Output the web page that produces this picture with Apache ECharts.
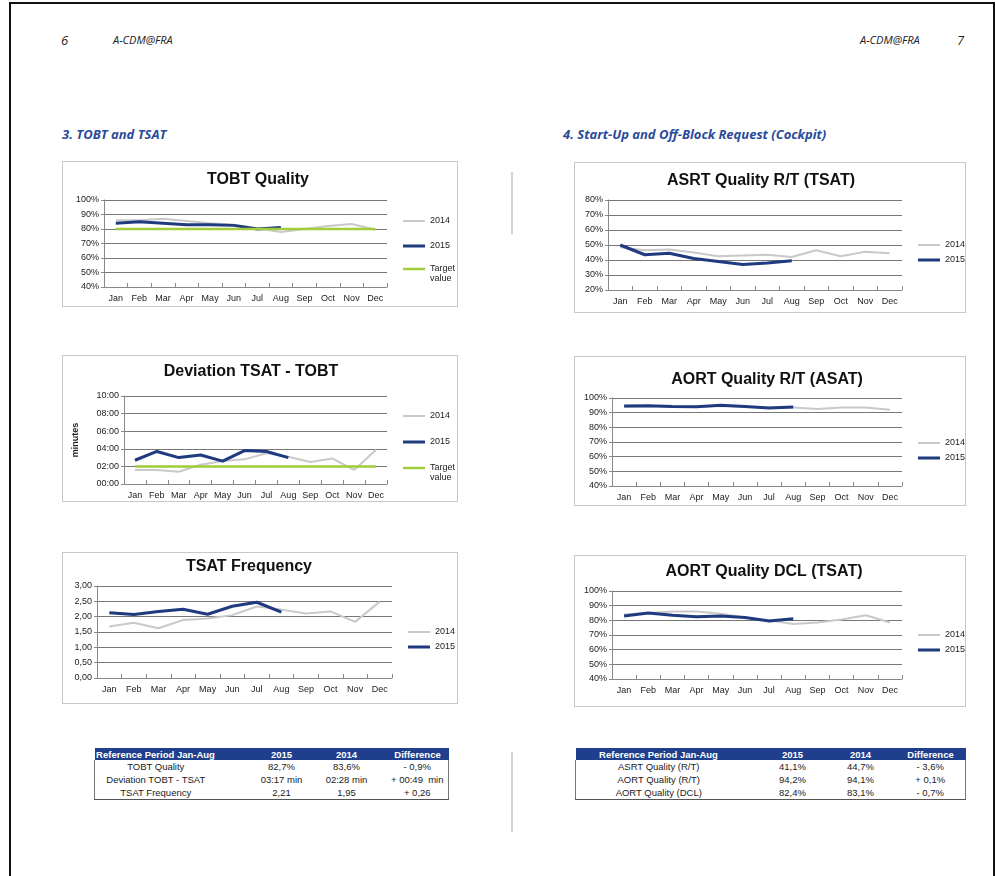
<!DOCTYPE html>
<html>
<head>
<meta charset="utf-8">
<script src="https://cdn.jsdelivr.net/npm/echarts@6/dist/echarts.min.js"></script>
<style>
  body { margin: 0; background: #fff; font-family: 'Liberation Sans', Arial, sans-serif; }
  #page { position: relative; width: 995px; height: 876px; overflow: hidden; background: #fff; }
  .frame { position: absolute; left: 9px; top: 2px; width: 982px; height: 900px; border: 2px solid #111; }
  .hdr { position: absolute; font-family: 'Liberation Sans Narrow', 'Open Sans', sans-serif; font-style: italic; color: #222; font-size: 11px; }
  .sec { position: absolute; font-family: 'Liberation Sans Narrow', 'Open Sans', sans-serif; font-style: italic; font-weight: bold; color: #2b4a9a; font-size: 13px; }
  .box { position: absolute; border: 1px solid #c8c8c8; box-sizing: border-box; }
  .mark { position: absolute; width: 2px; background: #d4d4d4; }
  table.ref { position: absolute; border-collapse: collapse; font-size: 9.5px; color: #222; table-layout: fixed; white-space: nowrap; }
  table.ref th { background: #1f3f8c; color: #fff; font-weight: bold; height: 12px; padding: 0; text-align: center; overflow: visible; }
  table.ref td { height: 13px; padding: 0; text-align: center; overflow: visible; }
  table.ref tbody { border-left: 1px solid #777; border-right: 1px solid #777; border-bottom: 1px solid #555; }
</style>
</head>
<body>
<div id="page">
  <div class="frame"></div>
  <div class="hdr" style="left:61px;top:31px;font-size:13px;">6</div>
  <div class="hdr" style="left:113px;top:32px;">A-CDM@FRA</div>
  <div class="hdr" style="left:860px;top:32px;">A-CDM@FRA</div>
  <div class="hdr" style="left:957px;top:31px;font-size:13px;">7</div>
  <div class="sec" style="left:62px;top:125px;">3. TOBT and TSAT</div>
  <div class="sec" style="left:563px;top:125px;">4. Start-Up and Off-Block Request (Cockpit)</div>
  <div class="mark" style="left:511px;top:172px;height:62px;"></div>
  <div class="mark" style="left:511px;top:752px;height:80px;"></div>

  <div id="c1" class="box" style="left:62px;top:161px;width:396px;height:146px;"></div>
  <div id="c2" class="box" style="left:62px;top:355px;width:396px;height:147px;"></div>
  <div id="c3" class="box" style="left:62px;top:552px;width:396px;height:152px;"></div>
  <div id="c4" class="box" style="left:574px;top:162px;width:392px;height:151px;"></div>
  <div id="c5" class="box" style="left:574px;top:356px;width:392px;height:150px;"></div>
  <div id="c6" class="box" style="left:574px;top:555px;width:392px;height:152px;"></div>

  <table id="t1" class="ref" style="left:94px;top:748px;width:354px;"></table>
  <table id="t2" class="ref" style="left:575px;top:748px;width:390px;"></table>
</div>

<script>
var months = ['Jan', 'Feb', 'Mar', 'Apr', 'May', 'Jun', 'Jul', 'Aug', 'Sep', 'Oct', 'Nov', 'Dec'];

// TOBT Quality (%)
var tobt2014 = [86, 86, 87, 85.5, 84, 83, 80.5, 78, 80, 82, 83.5, 79.5];
var tobt2015 = [84, 85, 84, 83, 83, 82.5, 80, 81];
var tobtTarget = [80, 80, 80, 80, 80, 80, 80, 80, 80, 80, 80, 80];

// Deviation TSAT - TOBT (minutes)
var dev2014 = [1.6, 1.6, 1.4, 2.2, 2.6, 2.8, 3.5, 3.1, 2.5, 2.9, 1.6, 3.9];
var dev2015 = [2.7, 3.7, 3.0, 3.3, 2.6, 3.8, 3.7, 3.0];
var devTarget = [2, 2, 2, 2, 2, 2, 2, 2, 2, 2, 2, 2];

// TSAT Frequency
var freq2014 = [1.68, 1.80, 1.62, 1.89, 1.94, 2.05, 2.33, 2.23, 2.10, 2.17, 1.83, 2.49];
var freq2015 = [2.13, 2.07, 2.17, 2.24, 2.08, 2.34, 2.47, 2.15];

// ASRT Quality R/T (TSAT) (%)
var asrt2014 = [48.5, 46.5, 47, 45, 42.5, 43, 43.5, 42, 46.5, 42.5, 45.5, 44.5];
var asrt2015 = [50, 43.5, 44.5, 41, 39, 37, 38, 39.5];

// AORT Quality R/T (ASAT) (%)
var aortRt2014 = [94, 94.5, 94, 94, 94.5, 94, 93.5, 93.5, 92.5, 93.5, 93.5, 92];
var aortRt2015 = [94.5, 94.7, 94.2, 94, 95, 94.2, 93.2, 93.8];

// AORT Quality DCL (TSAT) (%)
var aortDcl2014 = [84, 85, 86, 86, 84.5, 82, 80, 77.5, 78.5, 80.5, 83.5, 78.5];
var aortDcl2015 = [83, 85, 83.5, 82.5, 83, 82, 79.5, 81];

// summary tables
var tableHead = ['Reference Period Jan-Aug', '2015', '2014', 'Difference'];
var tableLeft = [
  ['TOBT Quality', '82,7%', '83,6%', '- 0,9%'],
  ['Deviation TOBT - TSAT', '03:17 min', '02:28 min', '+ 00:49  min'],
  ['TSAT Frequency', '2,21', '1,95', '+ 0,26']
];
var tableRight = [
  ['ASRT Quality (R/T)', '41,1%', '44,7%', '- 3,6%'],
  ['AORT Quality (R/T)', '94,2%', '94,1%', '+ 0,1%'],
  ['AORT Quality (DCL)', '82,4%', '83,1%', '- 0,7%']
];

var FONT = "'Liberation Sans', Arial, sans-serif";
var GRAY = '#c9c9c9', BLUE = '#1f3a7e', GREEN = '#a3cc3c';

function pct(v) { return v + '%'; }
function mins(v) { return (v < 10 ? '0' : '') + v + ':00'; }
function comma(v) { return v.toFixed(2).replace('.', ','); }

function makeChart(id, cfg) {
  var chart = echarts.init(document.getElementById(id));
  var series = cfg.series.map(function (s) {
    return {
      name: s.name, type: 'line', data: s.data, symbol: 'none', silent: true,
      lineStyle: { color: s.color, width: s.width }, itemStyle: { color: s.color }
    };
  });
  // one legend per item, so each line sample can keep its series' thickness
  var legends = cfg.legend.map(function (l) {
    var s = cfg.series.filter(function (x) { return x.name === l.name; })[0];
    return {
      data: [l.name], left: cfg.legendLeft, top: l.y - 5.5, padding: 0,
      icon: 'rect', itemWidth: 22, itemHeight: s.width, selectedMode: false,
      formatter: l.label || '{name}',
      textStyle: { fontSize: 9, color: '#222', fontFamily: FONT, lineHeight: 11 }
    };
  });
  var graphics = [];
  cfg.legend.forEach(function (l) {
    if (l.sub) {
      graphics.push({ type: 'text', left: cfg.legendLeft + 27, top: l.y + 5,
        style: { text: l.sub, fontSize: 9, fill: '#222', fontFamily: FONT } });
    }
  });
  chart.setOption({
    animation: false,
    title: {
      text: cfg.title, left: cfg.titleX, top: cfg.titleTop, textAlign: 'center', padding: 0,
      textStyle: { fontSize: 16, fontWeight: 'bold', color: '#111', fontFamily: FONT }
    },
    legend: legends,
    graphic: graphics,
    grid: cfg.grid,
    xAxis: {
      type: 'category', data: months, boundaryGap: true,
      axisLine: { lineStyle: { color: '#888' } },
      axisTick: { show: true, inside: true, length: 4, interval: 0, lineStyle: { color: '#888' } },
      axisLabel: { interval: 0, fontSize: 9, color: '#222', margin: 7, fontFamily: FONT }
    },
    yAxis: {
      type: 'value', min: cfg.yMin, max: cfg.yMax, interval: cfg.yInterval,
      name: cfg.yName || '', nameLocation: 'middle', nameGap: cfg.yNameGap || 30,
      nameTextStyle: { fontSize: 9, fontWeight: 'bold', color: '#222', fontFamily: FONT },
      axisLine: { show: true, lineStyle: { color: '#888' } },
      axisTick: { show: true, length: 3, lineStyle: { color: '#888' } },
      splitLine: { lineStyle: { color: '#777', width: 1 } },
      axisLabel: { fontSize: 9, color: '#222', margin: 5, fontFamily: FONT, formatter: cfg.yFmt }
    },
    series: series
  });
  return chart;
}

makeChart('c1', {
  title: 'TOBT Quality', titleX: 195, titleTop: 10,
  grid: { left: 41, top: 38, right: 70, bottom: 19 },
  yMin: 40, yMax: 100, yInterval: 10, yFmt: pct,
  legendLeft: 340,
  legend: [{ name: '2014', y: 59 }, { name: '2015', y: 84 }, { name: 'Target value', y: 107, label: 'Target', sub: 'value' }],
  series: [
    { name: '2014', data: tobt2014, color: GRAY, width: 2 },
    { name: '2015', data: tobt2015, color: BLUE, width: 3 },
    { name: 'Target value', data: tobtTarget, color: GREEN, width: 2.5 }
  ]
});

makeChart('c2', {
  title: 'Deviation TSAT - TOBT', titleX: 188, titleTop: 8,
  grid: { left: 57, top: 40, right: 70, bottom: 17 },
  yMin: 0, yMax: 10, yInterval: 2, yFmt: mins, yName: 'minutes', yNameGap: 44,
  legendLeft: 340,
  legend: [{ name: '2014', y: 60 }, { name: '2015', y: 86 }, { name: 'Target value', y: 112, label: 'Target', sub: 'value' }],
  series: [
    { name: '2014', data: dev2014, color: GRAY, width: 2 },
    { name: '2015', data: dev2015, color: BLUE, width: 3 },
    { name: 'Target value', data: devTarget, color: GREEN, width: 2.5 }
  ]
});

makeChart('c3', {
  title: 'TSAT Frequency', titleX: 186, titleTop: 6,
  grid: { left: 34, top: 33, right: 65, bottom: 25 },
  yMin: 0, yMax: 3, yInterval: 0.5, yFmt: comma,
  legendLeft: 345,
  legend: [{ name: '2014', y: 79 }, { name: '2015', y: 94 }],
  series: [
    { name: '2014', data: freq2014, color: GRAY, width: 2 },
    { name: '2015', data: freq2015, color: BLUE, width: 3 }
  ]
});

makeChart('c4', {
  title: 'ASRT Quality R/T (TSAT)', titleX: 186, titleTop: 10,
  grid: { left: 33, top: 37, right: 63, bottom: 22 },
  yMin: 20, yMax: 80, yInterval: 10, yFmt: pct,
  legendLeft: 343,
  legend: [{ name: '2014', y: 82 }, { name: '2015', y: 97 }],
  series: [
    { name: '2014', data: asrt2014, color: GRAY, width: 2 },
    { name: '2015', data: asrt2015, color: BLUE, width: 3 }
  ]
});

makeChart('c5', {
  title: 'AORT Quality R/T (ASAT)', titleX: 192, titleTop: 15,
  grid: { left: 37, top: 41, right: 63, bottom: 19 },
  yMin: 40, yMax: 100, yInterval: 10, yFmt: pct,
  legendLeft: 343,
  legend: [{ name: '2014', y: 86 }, { name: '2015', y: 101 }],
  series: [
    { name: '2014', data: aortRt2014, color: GRAY, width: 2 },
    { name: '2015', data: aortRt2015, color: BLUE, width: 3 }
  ]
});

makeChart('c6', {
  title: 'AORT Quality DCL (TSAT)', titleX: 189, titleTop: 8,
  grid: { left: 37, top: 35, right: 63, bottom: 27 },
  yMin: 40, yMax: 100, yInterval: 10, yFmt: pct,
  legendLeft: 343,
  legend: [{ name: '2014', y: 79 }, { name: '2015', y: 94 }],
  series: [
    { name: '2014', data: aortDcl2014, color: GRAY, width: 2 },
    { name: '2015', data: aortDcl2015, color: BLUE, width: 3 }
  ]
});

function fillTable(id, rows, widths, pad) {
  var t = document.getElementById(id);
  var html = '<colgroup>' + widths.map(function (w) { return '<col style="width:' + w + 'px">'; }).join('') + '</colgroup>';
  html += '<thead><tr>' + tableHead.map(function (h, i) {
    return '<th' + (i === 0 ? ' style="padding-right:' + pad + 'px"' : '') + '>' + h + '</th>';
  }).join('') + '</tr></thead><tbody>';
  rows.forEach(function (r) {
    html += '<tr>' + r.map(function (c, i) {
      return '<td' + (i === 0 ? ' style="padding-right:' + pad + 'px"' : '') + '>' + c.replace(/  /g, ' &nbsp;') + '</td>';
    }).join('') + '</tr>';
  });
  t.innerHTML = html + '</tbody>';
}
fillTable('t1', tableLeft, [162, 50, 80, 62], 40);
fillTable('t2', tableRight, [184, 66, 70, 70], 18);
</script>
</body>
</html>
